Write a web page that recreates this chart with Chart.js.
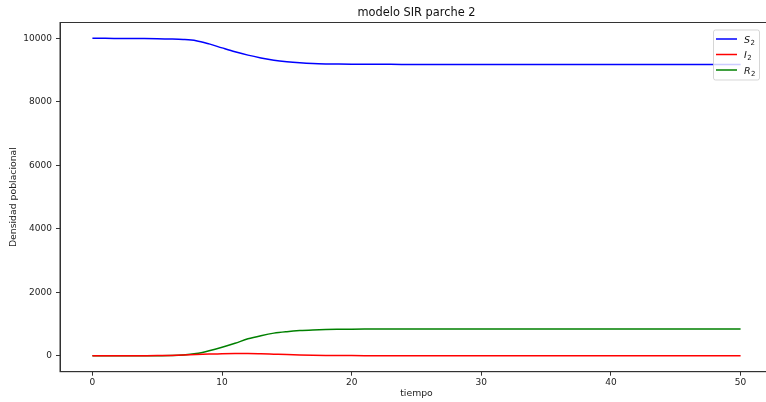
<!DOCTYPE html>
<html>
<head>
<meta charset="utf-8">
<script src="https://cdn.jsdelivr.net/npm/chart.js@4"></script>
<style>
  html, body { margin: 0; padding: 0; background: #fff; overflow: hidden; }
  #wrap { position: relative; width: 773px; height: 402px; }
</style>
</head>
<body>
<div id="wrap"><canvas id="sirChart"></canvas></div>
<script>
// tiempo (x) y densidades
const tiempo = [0, 1, 2, 3, 4, 5, 6, 7, 8, 9,
  10, 11, 12, 13, 14, 15, 16, 17, 18, 19,
  20, 21, 22, 23, 24, 25, 26, 27, 28, 29,
  30, 31, 32, 33, 34, 35, 36, 37, 38, 39,
  40, 41, 42, 43, 44, 45, 46, 47, 48, 49, 50];

const S2 = [10000, 10000, 9999, 9998, 9996, 9992, 9984, 9968, 9928, 9826,
  9700, 9578, 9472, 9385, 9313, 9264, 9230, 9207, 9195, 9189,
  9185, 9183, 9182, 9181, 9180, 9180, 9180, 9180, 9180, 9180,
  9180, 9180, 9180, 9180, 9180, 9180, 9180, 9180, 9180, 9180,
  9180, 9180, 9180, 9180, 9180, 9180, 9180, 9180, 9180, 9180, 9180];

const I2 = [1, 1, 2, 3, 5, 8, 14, 24, 38, 55,
  69, 75, 72, 62, 50, 38, 28, 20, 14, 10,
  7, 5, 3, 2, 2, 1, 1, 1, 0, 0,
  0, 0, 0, 0, 0, 0, 0, 0, 0, 0,
  0, 0, 0, 0, 0, 0, 0, 0, 0, 0, 0];

const R2 = [0, 0, 0, 1, 2, 4, 10, 25, 70, 160,
  270, 395, 535, 635, 715, 762, 795, 815, 828, 835,
  840, 843, 845, 846, 846, 846, 846, 846, 846, 846,
  846, 846, 846, 846, 846, 846, 846, 846, 846, 846,
  846, 846, 846, 846, 846, 846, 846, 846, 846, 846, 846];

const xTicks = [0, 10, 20, 30, 40, 50];
const yTicks = [0, 2000, 4000, 6000, 8000, 10000];

const titulo = "modelo SIR parche 2";
const series = [
  { name: "S", sub: "2", data: S2, color: "#0000ff" },
  { name: "I", sub: "2", data: I2, color: "#ff0000" },
  { name: "R", sub: "2", data: R2, color: "#008000" },
];

const FONT = "'DejaVu Sans', sans-serif";

// spines + title + legend (matplotlib style)
const mplDecor = {
  id: "mplDecor",
  afterDatasetsDraw(chart) {
    const { ctx, chartArea: a } = chart;
    ctx.save();
    ctx.strokeStyle = "#333";
    ctx.lineWidth = 1;
    ctx.strokeRect(a.left, a.top, a.right - a.left, a.bottom - a.top);

    // title
    ctx.fillStyle = "#111";
    ctx.font = "11.4px " + FONT;
    ctx.textAlign = "center";
    ctx.textBaseline = "middle";
    ctx.fillText(titulo, (a.left + a.right) / 2, 13);

    // legend
    const bx = a.right - 60, by = a.top + 7, bw = 46, bh = 50;
    ctx.globalAlpha = 0.8;
    ctx.fillStyle = "#fff";
    ctx.strokeStyle = "#cccccc";
    ctx.beginPath();
    ctx.roundRect(bx + 0.5, by + 0.5, bw, bh, 2);
    ctx.fill();
    ctx.stroke();
    ctx.globalAlpha = 1;
    series.forEach((s, i) => {
      const y = by + 9.5 + i * 15.5;
      ctx.strokeStyle = s.color;
      ctx.lineWidth = 1.5;
      ctx.beginPath();
      ctx.moveTo(bx + 3, y);
      ctx.lineTo(bx + 24, y);
      ctx.stroke();
      ctx.fillStyle = "#111";
      ctx.textAlign = "left";
      ctx.textBaseline = "alphabetic";
      ctx.font = "italic 9.5px " + FONT;
      ctx.fillText(s.name, bx + 31, y + 3.5);
      const w = ctx.measureText(s.name).width;
      ctx.font = "7px " + FONT;
      ctx.fillText(s.sub, bx + 31 + w + 0.5, y + 5.5);
    });
    ctx.restore();
  },
};

const tickFont = { family: FONT, size: 9 };
const labelFont = { family: FONT, size: 9.3 };

new Chart(document.getElementById("sirChart"), {
  type: "line",
  data: {
    datasets: series.map((s) => ({
      label: s.name + s.sub,
      data: tiempo.map((t, i) => ({ x: t, y: s.data[i] })),
      borderColor: s.color,
      borderWidth: 1.5,
      pointRadius: 0,
      fill: false,
      cubicInterpolationMode: "monotone",
    })),
  },
  options: {
    animation: false,
    responsive: true,
    maintainAspectRatio: false,
    layout: { padding: { top: 22.5, right: 0, left: 0, bottom: 0 } },
    plugins: {
      legend: { display: false },
      title: { display: false },
      tooltip: { enabled: false },
    },
    scales: {
      x: {
        type: "linear",
        min: -2.5,
        max: 52.5,
        afterBuildTicks: (s) => { s.ticks = xTicks.map((v) => ({ value: v })); },
        afterFit: (s) => { s.height = 30.3; },
        ticks: { font: tickFont, color: "#222", padding: 2, maxRotation: 0, callback: (v) => String(v) },
        grid: { display: true, drawOnChartArea: false, drawTicks: true, tickLength: 4, tickColor: "#333" },
        border: { display: true, color: "#333" },
        title: { display: true, text: "tiempo", font: labelFont, color: "#222", padding: { top: 0, bottom: 3 } },
      },
      y: {
        type: "linear",
        min: -500,
        max: 10500,
        afterBuildTicks: (s) => { s.ticks = yTicks.map((v) => ({ value: v })); },
        afterFit: (s) => { s.width = 60; },
        ticks: { font: tickFont, color: "#222", padding: 4, callback: (v) => String(v) },
        grid: { display: true, drawOnChartArea: false, drawTicks: true, tickLength: 4, tickColor: "#333" },
        border: { display: true, color: "#333" },
        title: { display: true, text: "Densidad poblacional", font: labelFont, color: "#222", padding: { top: 8.5, bottom: 0 } },
      },
    },
  },
  plugins: [mplDecor],
});
</script>
</body>
</html>
